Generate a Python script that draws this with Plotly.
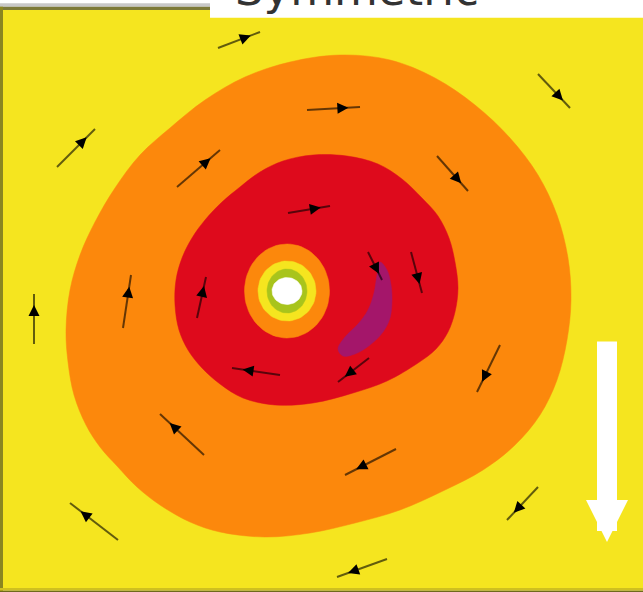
import numpy as np
import plotly.graph_objects as go

# ---- data (x to the right, y upward; 1 unit = 1 px of the plot area) ----
# outer (orange) contour boundary
orange_x = [63, 67, 77, 92, 112, 137, 167, 202, 242, 287, 337, 387, 432, 472, 507, 535, 554, 565, 568, 564,
            554, 537, 512, 480, 442, 397, 352, 307, 262, 217, 187, 157, 134, 114, 97, 83, 71, 65]
orange_y = [258, 298, 333, 366, 400, 433, 460, 488, 511, 526, 533, 528, 510, 483, 450, 413, 373, 330, 288, 248,
            208, 173, 143, 118, 98, 78, 65, 55, 51, 56, 66, 83, 101, 122, 141, 163, 193, 226]
# inner (red) contour boundary
red_x = [237, 257, 280, 310, 344, 375, 399, 419, 435, 446, 452, 455, 452, 445, 433, 415, 384, 350, 310, 272,
         240, 217, 199, 185, 176, 172, 173, 179, 189, 202, 219]
red_y = [401, 416, 427, 433, 432, 424, 409, 390, 372, 350, 326, 300, 276, 256, 239, 225, 207, 195, 185, 183,
         190, 204, 220, 238, 258, 283, 308, 330, 350, 368, 386]
# maximum (purple) crescent
purple_x = [377, 384, 388, 389, 387, 380, 367, 352, 340, 335, 342, 355, 365, 371, 374]
purple_y = [326, 318, 303, 288, 270, 256, 243, 234, 232, 239, 251, 264, 278, 295, 313]
# vortex core rings (centre and semi-axes, outermost first)
core_x = 284
core_y = 297
ring_rx = [42.5, 29.0, 20.0, 15.0]
ring_ry = [47.0, 30.0, 22.0, 13.5]

# flow arrows: tail and tip
tail_x = [215, 535, 304, 54, 174, 434, 285, 365, 408, 120, 194, 31, 497, 277, 366, 201, 393, 115, 535, 384]
tail_y = [540, 514, 478, 421, 401, 432, 375, 336, 336, 260, 270, 244, 243, 213, 230, 133, 139, 48, 101, 29]
tip_x = [257, 567, 357, 92, 217, 465, 327, 379, 419, 128, 203, 31, 474, 229, 335, 157, 342, 67, 504, 334]
tip_y = [556, 480, 481, 459, 438, 397, 382, 308, 295, 313, 311, 294, 196, 220, 206, 174, 113, 85, 68, 11]

# reference (white) arrow
key_x = 604
key_tail_y = 248
key_tip_y = 46

title_text = "Symmetric"

# ---- styles ----
YELLOW = "#f5e51f"
ORANGE = "#fc880c"
RED = "#de0a1c"
PURPLE = "#a4166a"
GREEN = "#a8c41c"
WHITE = "#ffffff"
ring_colors = [ORANGE, YELLOW, GREEN, WHITE]

W, H = 643, 592
ML, MR, MT, MB = 3, 0, 10, 4
PW, PH = W - ML - MR, H - MT - MB


def px_x(px):
    return (px - ML) / PW


def px_y(py):
    return (H - MB - py) / PH


fig = go.Figure()


def region(xs, ys, color):
    fig.add_trace(go.Scatter(
        x=list(xs) + [xs[0]], y=list(ys) + [ys[0]], mode="lines", fill="toself",
        fillcolor=color, line=dict(color=color, width=0.5, shape="spline", smoothing=1.0),
        hoverinfo="skip", showlegend=False))


region(orange_x, orange_y, ORANGE)
region(red_x, red_y, RED)
region(purple_x, purple_y, PURPLE)

t = np.linspace(0, 2 * np.pi, 73)
for rx, ry, c in zip(ring_rx, ring_ry, ring_colors):
    fig.add_trace(go.Scatter(
        x=core_x + rx * np.cos(t), y=core_y + ry * np.sin(t), mode="lines", fill="toself",
        fillcolor=c, line=dict(color=c, width=0.5), hoverinfo="skip", showlegend=False))

# arrow shafts
sx, sy = [], []
for x0, y0, x1, y1 in zip(tail_x, tail_y, tip_x, tip_y):
    sx += [x0, x1, None]
    sy += [y0, y1, None]
fig.add_trace(go.Scatter(x=sx, y=sy, mode="lines",
                         line=dict(color="rgba(0,0,0,0.6)", width=2),
                         hoverinfo="skip", showlegend=False))

annotations = []
HEAD_POS = 0.78
for x0, y0, x1, y1 in zip(tail_x, tail_y, tip_x, tip_y):
    hx = x0 + HEAD_POS * (x1 - x0)
    hy = y0 + HEAD_POS * (y1 - y0)
    L = np.hypot(x1 - x0, y1 - y0)
    bx = hx - 8 * (x1 - x0) / L
    by = hy - 8 * (y1 - y0) / L
    annotations.append(dict(x=hx, y=hy, ax=bx, ay=by, xref="x", yref="y", axref="x", ayref="y",
                            text="", showarrow=True, arrowhead=2, arrowsize=1.1, arrowwidth=2,
                            arrowcolor="black"))

annotations.append(dict(x=key_x, y=key_tip_y, ax=key_x, ay=key_tail_y, xref="x", yref="y",
                        axref="x", ayref="y", text="", showarrow=True, arrowhead=2, arrowsize=0.42,
                        arrowwidth=20, arrowcolor=WHITE))

annotations.append(dict(x=px_x(356.5), y=px_y(18.3), xref="paper", yref="paper", xanchor="center",
                        yanchor="bottom", text=title_text, showarrow=False,
                        font=dict(family="DejaVu Sans", size=45, color="#333333")))


def prect(x0, y0, x1, y1, color, layer="above"):
    return dict(type="rect", xref="paper", yref="paper", x0=px_x(x0), x1=px_x(x1),
                y0=px_y(y1), y1=px_y(y0), fillcolor=color, line=dict(width=0), layer=layer)


shapes = [
    prect(0, 3.3, 643, 6.7, "#c8c8c8"),
    prect(0, 6.7, 643, 10, "#7d7a38"),
    prect(0, 6.7, 3, 592, "#8b8620"),
    prect(0, 588, 643, 590.7, "#cfc01f"),
    prect(0, 590.7, 643, 592, "#6e6a1c"),
    prect(210, 0, 643, 17.7, WHITE),
]

fig.update_layout(
    width=W, height=H, margin=dict(l=ML, r=MR, t=MT, b=MB, pad=0),
    paper_bgcolor="white", plot_bgcolor=YELLOW,
    xaxis=dict(range=[0, PW], showgrid=False, zeroline=False, showticklabels=False, ticks="",
               fixedrange=True, showline=False),
    yaxis=dict(range=[0, PH], showgrid=False, zeroline=False, showticklabels=False, ticks="",
               fixedrange=True, showline=False),
    shapes=shapes, annotations=annotations, showlegend=False,
)

fig.write_html("out.html", config={"displayModeBar": False},
               post_script="document.body.style.margin='0px';document.body.style.overflow='hidden';")
